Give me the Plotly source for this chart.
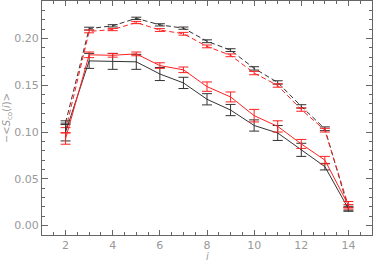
import plotly.graph_objects as go

i_vals = [2, 3, 4, 5, 6, 7, 8, 9, 10, 11, 12, 13, 14]

black_solid = [0.100, 0.176, 0.1755, 0.175, 0.162, 0.1525, 0.135, 0.1235, 0.107, 0.099, 0.081, 0.063, 0.018]
black_solid_err = [0.0095, 0.008, 0.0085, 0.008, 0.007, 0.006, 0.006, 0.006, 0.006, 0.008, 0.007, 0.0035, 0.0027]

red_solid = [0.093, 0.1825, 0.182, 0.1835, 0.171, 0.1665, 0.1485, 0.1375, 0.1175, 0.106, 0.0873, 0.070, 0.0218]
red_solid_err = [0.006, 0.003, 0.002, 0.002, 0.003, 0.003, 0.005, 0.0053, 0.0067, 0.006, 0.0048, 0.004, 0.004]

black_dashed = [0.110, 0.2105, 0.2135, 0.2215, 0.2145, 0.2110, 0.1970, 0.1875, 0.1680, 0.1530, 0.1274, 0.1035, 0.0180]
black_dashed_err = [0.002, 0.0015, 0.0012, 0.0012, 0.0012, 0.0012, 0.0015, 0.0015, 0.0018, 0.0018, 0.0018, 0.002, 0.0015]

red_dashed = [0.102, 0.2075, 0.2095, 0.2170, 0.2090, 0.2050, 0.1915, 0.1820, 0.1630, 0.1497, 0.1240, 0.1020, 0.0210]
red_dashed_err = [0.0027, 0.0015, 0.0012, 0.0012, 0.0015, 0.0015, 0.0015, 0.0015, 0.0018, 0.0018, 0.0018, 0.002, 0.0015]

x_tickvals = [2, 4, 6, 8, 10, 12, 14]
y_tickvals = [0.00, 0.05, 0.10, 0.15, 0.20]
y_ticktext = ["0.00", "0.05", "0.10", "0.15", "0.20"]

BLACK = "#333333"
RED = "#ff2020"
TXT = "#999999"

def trace(y, err, color, dash):
    return go.Scatter(
        x=i_vals, y=y, mode="lines",
        line=dict(color=color, width=1, dash=dash),
        error_y=dict(type="data", array=err, visible=True, color=color, thickness=1, width=5),
        showlegend=False, hoverinfo="skip",
    )

fig = go.Figure()
fig.add_trace(trace(black_dashed, black_dashed_err, BLACK, "5px,3px"))
fig.add_trace(trace(red_dashed, red_dashed_err, RED, "5px,3px"))
fig.add_trace(trace(black_solid, black_solid_err, BLACK, "solid"))
fig.add_trace(trace(red_solid, red_solid_err, RED, "solid"))

axis_common = dict(
    showgrid=False, zeroline=False, showline=True, linecolor="#666666", linewidth=1,
    mirror="ticks", ticks="inside", tickcolor="#666666",
    tickfont=dict(family="DejaVu Sans", size=11, color=TXT),
)

fig.update_xaxes(
    range=[1, 15], tickvals=x_tickvals, ticklen=5,
    minor=dict(dtick=0.5, ticklen=3, ticks="inside", tickcolor="#666666"),
    **axis_common,
)
fig.update_yaxes(
    range=[-0.01, 0.24], tickvals=y_tickvals, ticktext=y_ticktext, ticklen=6,
    minor=dict(dtick=0.01, ticklen=3, ticks="inside", tickcolor="#666666"),
    title=dict(text="−<<i>S</i><sub>co</sub>(<i>i</i>)>", font=dict(family="DejaVu Sans", size=10, color=TXT), standoff=1),
    **axis_common,
)

fig.add_annotation(
    text="<i>i</i>", xref="paper", yref="paper", x=0.5, y=0, yshift=-21,
    xanchor="center", yanchor="middle", showarrow=False,
    font=dict(family="DejaVu Sans", size=10, color=TXT),
)

fig.update_layout(
    width=373, height=262,
    margin=dict(l=42, r=1, t=1, b=27),
    paper_bgcolor="white", plot_bgcolor="white",
)

fig.write_html(
    "out.html",
    config={"displayModeBar": False, "staticPlot": True},
    post_script="document.body.style.margin='0';document.body.style.overflow='hidden';",
)
